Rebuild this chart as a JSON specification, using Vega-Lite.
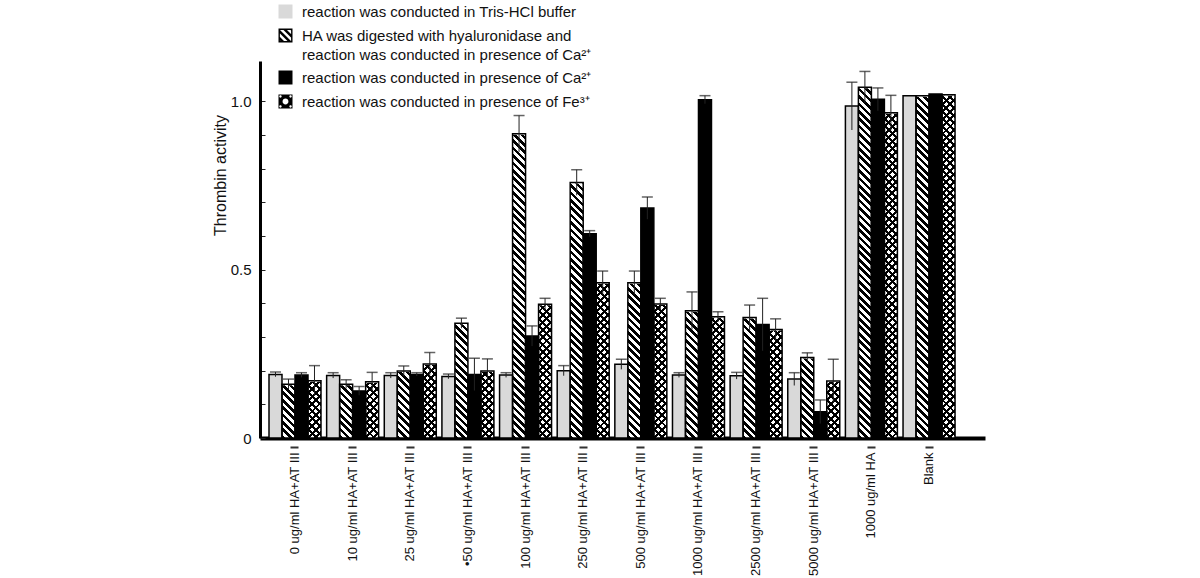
{
"$schema": "https://vega.github.io/schema/vega-lite/v6.json",
"width": 725, "height": 377,
"autosize": {"type": "none"},
"padding": {"left": 260, "top": 61, "right": 215, "bottom": 140},
"background": "white",
"config": {"view": {"stroke": null}, "font": "Liberation Sans", "axis": {"grid": false}, "axisY": {"labelOverlap": false, "labelBound": false, "labelFlush": false}, "style": {"guide-label": {"lineBreak": "\n", "lineHeight": 19}}},
"data": {"values": [
{"g":"0 ug/ml HA+AT III","s":"T","v":0.189,"lo":0.182,"hi":0.196},
{"g":"0 ug/ml HA+AT III","s":"H","v":0.16,"lo":0.145,"hi":0.175},
{"g":"0 ug/ml HA+AT III","s":"C","v":0.187,"lo":0.18,"hi":0.194},
{"g":"0 ug/ml HA+AT III","s":"F","v":0.17,"lo":0.125,"hi":0.215},
{"g":"10 ug/ml HA+AT III","s":"T","v":0.186,"lo":0.178,"hi":0.194},
{"g":"10 ug/ml HA+AT III","s":"H","v":0.16,"lo":0.147,"hi":0.173},
{"g":"10 ug/ml HA+AT III","s":"C","v":0.14,"lo":0.127,"hi":0.153},
{"g":"10 ug/ml HA+AT III","s":"F","v":0.167,"lo":0.139,"hi":0.195},
{"g":"25 ug/ml HA+AT III","s":"T","v":0.186,"lo":0.178,"hi":0.194},
{"g":"25 ug/ml HA+AT III","s":"H","v":0.199,"lo":0.184,"hi":0.214},
{"g":"25 ug/ml HA+AT III","s":"C","v":0.189,"lo":0.184,"hi":0.194},
{"g":"25 ug/ml HA+AT III","s":"F","v":0.22,"lo":0.186,"hi":0.254},
{"g":"•50 ug/ml HA+AT III","s":"T","v":0.183,"lo":0.176,"hi":0.19},
{"g":"•50 ug/ml HA+AT III","s":"H","v":0.341,"lo":0.326,"hi":0.356},
{"g":"•50 ug/ml HA+AT III","s":"C","v":0.189,"lo":0.141,"hi":0.237},
{"g":"•50 ug/ml HA+AT III","s":"F","v":0.199,"lo":0.163,"hi":0.235},
{"g":"100 ug/ml HA+AT III","s":"T","v":0.187,"lo":0.18,"hi":0.194},
{"g":"100 ug/ml HA+AT III","s":"H","v":0.904,"lo":0.85,"hi":0.958},
{"g":"100 ug/ml HA+AT III","s":"C","v":0.303,"lo":0.273,"hi":0.333},
{"g":"100 ug/ml HA+AT III","s":"F","v":0.397,"lo":0.379,"hi":0.415},
{"g":"250 ug/ml HA+AT III","s":"T","v":0.2,"lo":0.185,"hi":0.215},
{"g":"250 ug/ml HA+AT III","s":"H","v":0.759,"lo":0.721,"hi":0.797},
{"g":"250 ug/ml HA+AT III","s":"C","v":0.607,"lo":0.598,"hi":0.616},
{"g":"250 ug/ml HA+AT III","s":"F","v":0.461,"lo":0.426,"hi":0.496},
{"g":"500 ug/ml HA+AT III","s":"T","v":0.219,"lo":0.204,"hi":0.234},
{"g":"500 ug/ml HA+AT III","s":"H","v":0.461,"lo":0.426,"hi":0.496},
{"g":"500 ug/ml HA+AT III","s":"C","v":0.683,"lo":0.65,"hi":0.716},
{"g":"500 ug/ml HA+AT III","s":"F","v":0.398,"lo":0.381,"hi":0.415},
{"g":"1000 ug/ml HA+AT III","s":"T","v":0.187,"lo":0.18,"hi":0.194},
{"g":"1000 ug/ml HA+AT III","s":"H","v":0.378,"lo":0.322,"hi":0.434},
{"g":"1000 ug/ml HA+AT III","s":"C","v":1.005,"lo":0.993,"hi":1.017},
{"g":"1000 ug/ml HA+AT III","s":"F","v":0.36,"lo":0.345,"hi":0.375},
{"g":"2500 ug/ml HA+AT III","s":"T","v":0.185,"lo":0.175,"hi":0.195},
{"g":"2500 ug/ml HA+AT III","s":"H","v":0.358,"lo":0.321,"hi":0.395},
{"g":"2500 ug/ml HA+AT III","s":"C","v":0.337,"lo":0.259,"hi":0.415},
{"g":"2500 ug/ml HA+AT III","s":"F","v":0.322,"lo":0.29,"hi":0.354},
{"g":"5000 ug/ml HA+AT III","s":"T","v":0.175,"lo":0.156,"hi":0.194},
{"g":"5000 ug/ml HA+AT III","s":"H","v":0.239,"lo":0.225,"hi":0.253},
{"g":"5000 ug/ml HA+AT III","s":"C","v":0.078,"lo":0.043,"hi":0.113},
{"g":"5000 ug/ml HA+AT III","s":"F","v":0.169,"lo":0.104,"hi":0.234},
{"g":"1000 ug/ml HA","s":"T","v":0.986,"lo":0.915,"hi":1.057},
{"g":"1000 ug/ml HA","s":"H","v":1.042,"lo":0.995,"hi":1.089},
{"g":"1000 ug/ml HA","s":"C","v":1.006,"lo":0.972,"hi":1.04},
{"g":"1000 ug/ml HA","s":"F","v":0.966,"lo":0.914,"hi":1.018},
{"g":"Blank","s":"T","v":1.017},
{"g":"Blank","s":"H","v":1.017},
{"g":"Blank","s":"C","v":1.022},
{"g":"Blank","s":"F","v":1.02}
]},
"encoding": {
  "x": {"field": "g", "type": "nominal",
    "scale": {"domain": ["0 ug/ml HA+AT III","10 ug/ml HA+AT III","25 ug/ml HA+AT III","•50 ug/ml HA+AT III","100 ug/ml HA+AT III","250 ug/ml HA+AT III","500 ug/ml HA+AT III","1000 ug/ml HA+AT III","2500 ug/ml HA+AT III","5000 ug/ml HA+AT III","1000 ug/ml HA","Blank"], "paddingInner": 0.098, "paddingOuter": 0.338, "align": 0.231},
    "axis": {"title": null, "labelAngle": -90, "labelFontSize": 13, "labelColor": "#111", "labelPadding": 4, "labelLimit": 0, "domainWidth": 4, "domainColor": "#000", "ticks": true, "tickSize": 10, "tickWidth": 8, "tickColor": "#333", "tickDash": [0, 8, 2, 100]}},
  "xOffset": {"field": "s", "type": "nominal", "scale": {"domain": ["T","H","C","F"], "paddingInner": 0, "paddingOuter": 0}}
},
"layer": [
{
  "transform": [{"filter": "datum.s=='H'"}],
  "mark": {"type": "bar", "fill": {"gradient": "linear", "x1": 0, "y1": 1, "x2": 0.0377, "y2": -0.0351, "stops": [
{"offset":0,"color":"#000"},{"offset":0.01,"color":"#000"},{"offset":0.01,"color":"#fff"},{"offset":0.02,"color":"#fff"},
{"offset":0.02,"color":"#000"},{"offset":0.03,"color":"#000"},{"offset":0.03,"color":"#fff"},{"offset":0.04,"color":"#fff"},
{"offset":0.04,"color":"#000"},{"offset":0.05,"color":"#000"},{"offset":0.05,"color":"#fff"},{"offset":0.06,"color":"#fff"},
{"offset":0.06,"color":"#000"},{"offset":0.07,"color":"#000"},{"offset":0.07,"color":"#fff"},{"offset":0.08,"color":"#fff"},
{"offset":0.08,"color":"#000"},{"offset":0.09,"color":"#000"},{"offset":0.09,"color":"#fff"},{"offset":0.1,"color":"#fff"},
{"offset":0.1,"color":"#000"},{"offset":0.11,"color":"#000"},{"offset":0.11,"color":"#fff"},{"offset":0.12,"color":"#fff"},
{"offset":0.12,"color":"#000"},{"offset":0.13,"color":"#000"},{"offset":0.13,"color":"#fff"},{"offset":0.14,"color":"#fff"},
{"offset":0.14,"color":"#000"},{"offset":0.15,"color":"#000"},{"offset":0.15,"color":"#fff"},{"offset":0.16,"color":"#fff"},
{"offset":0.16,"color":"#000"},{"offset":0.17,"color":"#000"},{"offset":0.17,"color":"#fff"},{"offset":0.18,"color":"#fff"},
{"offset":0.18,"color":"#000"},{"offset":0.19,"color":"#000"},{"offset":0.19,"color":"#fff"},{"offset":0.2,"color":"#fff"},
{"offset":0.2,"color":"#000"},{"offset":0.21,"color":"#000"},{"offset":0.21,"color":"#fff"},{"offset":0.22,"color":"#fff"},
{"offset":0.22,"color":"#000"},{"offset":0.23,"color":"#000"},{"offset":0.23,"color":"#fff"},{"offset":0.24,"color":"#fff"},
{"offset":0.24,"color":"#000"},{"offset":0.25,"color":"#000"},{"offset":0.25,"color":"#fff"},{"offset":0.26,"color":"#fff"},
{"offset":0.26,"color":"#000"},{"offset":0.27,"color":"#000"},{"offset":0.27,"color":"#fff"},{"offset":0.28,"color":"#fff"},
{"offset":0.28,"color":"#000"},{"offset":0.29,"color":"#000"},{"offset":0.29,"color":"#fff"},{"offset":0.3,"color":"#fff"},
{"offset":0.3,"color":"#000"},{"offset":0.31,"color":"#000"},{"offset":0.31,"color":"#fff"},{"offset":0.32,"color":"#fff"},
{"offset":0.32,"color":"#000"},{"offset":0.33,"color":"#000"},{"offset":0.33,"color":"#fff"},{"offset":0.34,"color":"#fff"},
{"offset":0.34,"color":"#000"},{"offset":0.35,"color":"#000"},{"offset":0.35,"color":"#fff"},{"offset":0.36,"color":"#fff"},
{"offset":0.36,"color":"#000"},{"offset":0.37,"color":"#000"},{"offset":0.37,"color":"#fff"},{"offset":0.38,"color":"#fff"},
{"offset":0.38,"color":"#000"},{"offset":0.39,"color":"#000"},{"offset":0.39,"color":"#fff"},{"offset":0.4,"color":"#fff"},
{"offset":0.4,"color":"#000"},{"offset":0.41,"color":"#000"},{"offset":0.41,"color":"#fff"},{"offset":0.42,"color":"#fff"},
{"offset":0.42,"color":"#000"},{"offset":0.43,"color":"#000"},{"offset":0.43,"color":"#fff"},{"offset":0.44,"color":"#fff"},
{"offset":0.44,"color":"#000"},{"offset":0.45,"color":"#000"},{"offset":0.45,"color":"#fff"},{"offset":0.46,"color":"#fff"},
{"offset":0.46,"color":"#000"},{"offset":0.47,"color":"#000"},{"offset":0.47,"color":"#fff"},{"offset":0.48,"color":"#fff"},
{"offset":0.48,"color":"#000"},{"offset":0.49,"color":"#000"},{"offset":0.49,"color":"#fff"},{"offset":0.5,"color":"#fff"},
{"offset":0.5,"color":"#000"},{"offset":0.51,"color":"#000"},{"offset":0.51,"color":"#fff"},{"offset":0.52,"color":"#fff"},
{"offset":0.52,"color":"#000"},{"offset":0.53,"color":"#000"},{"offset":0.53,"color":"#fff"},{"offset":0.54,"color":"#fff"},
{"offset":0.54,"color":"#000"},{"offset":0.55,"color":"#000"},{"offset":0.55,"color":"#fff"},{"offset":0.56,"color":"#fff"},
{"offset":0.56,"color":"#000"},{"offset":0.57,"color":"#000"},{"offset":0.57,"color":"#fff"},{"offset":0.58,"color":"#fff"},
{"offset":0.58,"color":"#000"},{"offset":0.59,"color":"#000"},{"offset":0.59,"color":"#fff"},{"offset":0.6,"color":"#fff"},
{"offset":0.6,"color":"#000"},{"offset":0.61,"color":"#000"},{"offset":0.61,"color":"#fff"},{"offset":0.62,"color":"#fff"},
{"offset":0.62,"color":"#000"},{"offset":0.63,"color":"#000"},{"offset":0.63,"color":"#fff"},{"offset":0.64,"color":"#fff"},
{"offset":0.64,"color":"#000"},{"offset":0.65,"color":"#000"},{"offset":0.65,"color":"#fff"},{"offset":0.66,"color":"#fff"},
{"offset":0.66,"color":"#000"},{"offset":0.67,"color":"#000"},{"offset":0.67,"color":"#fff"},{"offset":0.68,"color":"#fff"},
{"offset":0.68,"color":"#000"},{"offset":0.69,"color":"#000"},{"offset":0.69,"color":"#fff"},{"offset":0.7,"color":"#fff"},
{"offset":0.7,"color":"#000"},{"offset":0.71,"color":"#000"},{"offset":0.71,"color":"#fff"},{"offset":0.72,"color":"#fff"},
{"offset":0.72,"color":"#000"},{"offset":0.73,"color":"#000"},{"offset":0.73,"color":"#fff"},{"offset":0.74,"color":"#fff"},
{"offset":0.74,"color":"#000"},{"offset":0.75,"color":"#000"},{"offset":0.75,"color":"#fff"},{"offset":0.76,"color":"#fff"},
{"offset":0.76,"color":"#000"},{"offset":0.77,"color":"#000"},{"offset":0.77,"color":"#fff"},{"offset":0.78,"color":"#fff"},
{"offset":0.78,"color":"#000"},{"offset":0.79,"color":"#000"},{"offset":0.79,"color":"#fff"},{"offset":0.8,"color":"#fff"},
{"offset":0.8,"color":"#000"},{"offset":0.81,"color":"#000"},{"offset":0.81,"color":"#fff"},{"offset":0.82,"color":"#fff"},
{"offset":0.82,"color":"#000"},{"offset":0.83,"color":"#000"},{"offset":0.83,"color":"#fff"},{"offset":0.84,"color":"#fff"},
{"offset":0.84,"color":"#000"},{"offset":0.85,"color":"#000"},{"offset":0.85,"color":"#fff"},{"offset":0.86,"color":"#fff"},
{"offset":0.86,"color":"#000"},{"offset":0.87,"color":"#000"},{"offset":0.87,"color":"#fff"},{"offset":0.88,"color":"#fff"},
{"offset":0.88,"color":"#000"},{"offset":0.89,"color":"#000"},{"offset":0.89,"color":"#fff"},{"offset":0.9,"color":"#fff"},
{"offset":0.9,"color":"#000"},{"offset":0.91,"color":"#000"},{"offset":0.91,"color":"#fff"},{"offset":0.92,"color":"#fff"},
{"offset":0.92,"color":"#000"},{"offset":0.93,"color":"#000"},{"offset":0.93,"color":"#fff"},{"offset":0.94,"color":"#fff"},
{"offset":0.94,"color":"#000"},{"offset":0.95,"color":"#000"},{"offset":0.95,"color":"#fff"},{"offset":0.96,"color":"#fff"},
{"offset":0.96,"color":"#000"},{"offset":0.97,"color":"#000"},{"offset":0.97,"color":"#fff"},{"offset":0.98,"color":"#fff"},
{"offset":0.98,"color":"#000"},{"offset":0.99,"color":"#000"},{"offset":0.99,"color":"#fff"},{"offset":1,"color":"#fff"}
  ]}},
  "encoding": {
    "y": {"datum": 1.06, "type": "quantitative", "title": "Thrombin activity", "scale": {"domain": [0, 1.12], "nice": false},
      "axis": {"values": [0,0.1,0.2,0.3,0.4,0.5,0.6,0.7,0.8,0.9,1], "tickCount": 30, "format": ".1f", "labelExpr": "datum.label=='0.0' ? '0' : (datum.label=='0.5' || datum.label=='1.0') ? datum.label : ''", "labelOverlap": false, "labelBound": false, "ticks": true, "tickSize": -5, "tickColor": "#222", "tickWidth": 1, "labelPadding": 14, "labelFontSize": 15, "labelColor": "#111", "domainWidth": 3, "domainColor": "#000", "titleFontSize": 16, "titleFontWeight": "normal", "titleColor": "#111", "titleX": -40, "titleY": 114, "titleAlign": "center", "titleBaseline": "middle", "titleAngle": 270}},
    "y2": {"datum": 0}
  }
},
{
  "transform": [{"filter": "datum.s=='F'"}],
  "mark": {"type": "bar", "fill": {"gradient": "linear", "x1": 0, "y1": 1, "x2": 0.0377, "y2": -0.0351, "stops": [
{"offset":0,"color":"#000"},{"offset":0.008,"color":"#000"},{"offset":0.008,"color":"#fff"},{"offset":0.02,"color":"#fff"},
{"offset":0.02,"color":"#000"},{"offset":0.028,"color":"#000"},{"offset":0.028,"color":"#fff"},{"offset":0.04,"color":"#fff"},
{"offset":0.04,"color":"#000"},{"offset":0.048,"color":"#000"},{"offset":0.048,"color":"#fff"},{"offset":0.06,"color":"#fff"},
{"offset":0.06,"color":"#000"},{"offset":0.068,"color":"#000"},{"offset":0.068,"color":"#fff"},{"offset":0.08,"color":"#fff"},
{"offset":0.08,"color":"#000"},{"offset":0.088,"color":"#000"},{"offset":0.088,"color":"#fff"},{"offset":0.1,"color":"#fff"},
{"offset":0.1,"color":"#000"},{"offset":0.108,"color":"#000"},{"offset":0.108,"color":"#fff"},{"offset":0.12,"color":"#fff"},
{"offset":0.12,"color":"#000"},{"offset":0.128,"color":"#000"},{"offset":0.128,"color":"#fff"},{"offset":0.14,"color":"#fff"},
{"offset":0.14,"color":"#000"},{"offset":0.148,"color":"#000"},{"offset":0.148,"color":"#fff"},{"offset":0.16,"color":"#fff"},
{"offset":0.16,"color":"#000"},{"offset":0.168,"color":"#000"},{"offset":0.168,"color":"#fff"},{"offset":0.18,"color":"#fff"},
{"offset":0.18,"color":"#000"},{"offset":0.188,"color":"#000"},{"offset":0.188,"color":"#fff"},{"offset":0.2,"color":"#fff"},
{"offset":0.2,"color":"#000"},{"offset":0.208,"color":"#000"},{"offset":0.208,"color":"#fff"},{"offset":0.22,"color":"#fff"},
{"offset":0.22,"color":"#000"},{"offset":0.228,"color":"#000"},{"offset":0.228,"color":"#fff"},{"offset":0.24,"color":"#fff"},
{"offset":0.24,"color":"#000"},{"offset":0.248,"color":"#000"},{"offset":0.248,"color":"#fff"},{"offset":0.26,"color":"#fff"},
{"offset":0.26,"color":"#000"},{"offset":0.268,"color":"#000"},{"offset":0.268,"color":"#fff"},{"offset":0.28,"color":"#fff"},
{"offset":0.28,"color":"#000"},{"offset":0.288,"color":"#000"},{"offset":0.288,"color":"#fff"},{"offset":0.3,"color":"#fff"},
{"offset":0.3,"color":"#000"},{"offset":0.308,"color":"#000"},{"offset":0.308,"color":"#fff"},{"offset":0.32,"color":"#fff"},
{"offset":0.32,"color":"#000"},{"offset":0.328,"color":"#000"},{"offset":0.328,"color":"#fff"},{"offset":0.34,"color":"#fff"},
{"offset":0.34,"color":"#000"},{"offset":0.348,"color":"#000"},{"offset":0.348,"color":"#fff"},{"offset":0.36,"color":"#fff"},
{"offset":0.36,"color":"#000"},{"offset":0.368,"color":"#000"},{"offset":0.368,"color":"#fff"},{"offset":0.38,"color":"#fff"},
{"offset":0.38,"color":"#000"},{"offset":0.388,"color":"#000"},{"offset":0.388,"color":"#fff"},{"offset":0.4,"color":"#fff"},
{"offset":0.4,"color":"#000"},{"offset":0.408,"color":"#000"},{"offset":0.408,"color":"#fff"},{"offset":0.42,"color":"#fff"},
{"offset":0.42,"color":"#000"},{"offset":0.428,"color":"#000"},{"offset":0.428,"color":"#fff"},{"offset":0.44,"color":"#fff"},
{"offset":0.44,"color":"#000"},{"offset":0.448,"color":"#000"},{"offset":0.448,"color":"#fff"},{"offset":0.46,"color":"#fff"},
{"offset":0.46,"color":"#000"},{"offset":0.468,"color":"#000"},{"offset":0.468,"color":"#fff"},{"offset":0.48,"color":"#fff"},
{"offset":0.48,"color":"#000"},{"offset":0.488,"color":"#000"},{"offset":0.488,"color":"#fff"},{"offset":0.5,"color":"#fff"},
{"offset":0.5,"color":"#000"},{"offset":0.508,"color":"#000"},{"offset":0.508,"color":"#fff"},{"offset":0.52,"color":"#fff"},
{"offset":0.52,"color":"#000"},{"offset":0.528,"color":"#000"},{"offset":0.528,"color":"#fff"},{"offset":0.54,"color":"#fff"},
{"offset":0.54,"color":"#000"},{"offset":0.548,"color":"#000"},{"offset":0.548,"color":"#fff"},{"offset":0.56,"color":"#fff"},
{"offset":0.56,"color":"#000"},{"offset":0.568,"color":"#000"},{"offset":0.568,"color":"#fff"},{"offset":0.58,"color":"#fff"},
{"offset":0.58,"color":"#000"},{"offset":0.588,"color":"#000"},{"offset":0.588,"color":"#fff"},{"offset":0.6,"color":"#fff"},
{"offset":0.6,"color":"#000"},{"offset":0.608,"color":"#000"},{"offset":0.608,"color":"#fff"},{"offset":0.62,"color":"#fff"},
{"offset":0.62,"color":"#000"},{"offset":0.628,"color":"#000"},{"offset":0.628,"color":"#fff"},{"offset":0.64,"color":"#fff"},
{"offset":0.64,"color":"#000"},{"offset":0.648,"color":"#000"},{"offset":0.648,"color":"#fff"},{"offset":0.66,"color":"#fff"},
{"offset":0.66,"color":"#000"},{"offset":0.668,"color":"#000"},{"offset":0.668,"color":"#fff"},{"offset":0.68,"color":"#fff"},
{"offset":0.68,"color":"#000"},{"offset":0.688,"color":"#000"},{"offset":0.688,"color":"#fff"},{"offset":0.7,"color":"#fff"},
{"offset":0.7,"color":"#000"},{"offset":0.708,"color":"#000"},{"offset":0.708,"color":"#fff"},{"offset":0.72,"color":"#fff"},
{"offset":0.72,"color":"#000"},{"offset":0.728,"color":"#000"},{"offset":0.728,"color":"#fff"},{"offset":0.74,"color":"#fff"},
{"offset":0.74,"color":"#000"},{"offset":0.748,"color":"#000"},{"offset":0.748,"color":"#fff"},{"offset":0.76,"color":"#fff"},
{"offset":0.76,"color":"#000"},{"offset":0.768,"color":"#000"},{"offset":0.768,"color":"#fff"},{"offset":0.78,"color":"#fff"},
{"offset":0.78,"color":"#000"},{"offset":0.788,"color":"#000"},{"offset":0.788,"color":"#fff"},{"offset":0.8,"color":"#fff"},
{"offset":0.8,"color":"#000"},{"offset":0.808,"color":"#000"},{"offset":0.808,"color":"#fff"},{"offset":0.82,"color":"#fff"},
{"offset":0.82,"color":"#000"},{"offset":0.828,"color":"#000"},{"offset":0.828,"color":"#fff"},{"offset":0.84,"color":"#fff"},
{"offset":0.84,"color":"#000"},{"offset":0.848,"color":"#000"},{"offset":0.848,"color":"#fff"},{"offset":0.86,"color":"#fff"},
{"offset":0.86,"color":"#000"},{"offset":0.868,"color":"#000"},{"offset":0.868,"color":"#fff"},{"offset":0.88,"color":"#fff"},
{"offset":0.88,"color":"#000"},{"offset":0.888,"color":"#000"},{"offset":0.888,"color":"#fff"},{"offset":0.9,"color":"#fff"},
{"offset":0.9,"color":"#000"},{"offset":0.908,"color":"#000"},{"offset":0.908,"color":"#fff"},{"offset":0.92,"color":"#fff"},
{"offset":0.92,"color":"#000"},{"offset":0.928,"color":"#000"},{"offset":0.928,"color":"#fff"},{"offset":0.94,"color":"#fff"},
{"offset":0.94,"color":"#000"},{"offset":0.948,"color":"#000"},{"offset":0.948,"color":"#fff"},{"offset":0.96,"color":"#fff"},
{"offset":0.96,"color":"#000"},{"offset":0.968,"color":"#000"},{"offset":0.968,"color":"#fff"},{"offset":0.98,"color":"#fff"},
{"offset":0.98,"color":"#000"},{"offset":0.988,"color":"#000"},{"offset":0.988,"color":"#fff"},{"offset":1,"color":"#fff"}
  ]}},
  "encoding": {"y": {"datum": 1.06, "type": "quantitative", "title": "Thrombin activity", "scale": {"domain": [0, 1.12], "nice": false}}, "y2": {"datum": 0}}
},
{
  "transform": [{"filter": "datum.s=='F'"}],
  "mark": {"type": "bar", "fill": {"gradient": "linear", "x1": 0, "y1": 0, "x2": 0.0377, "y2": 1.0351, "stops": [
{"offset":0,"color":"#000"},{"offset":0.008,"color":"#000"},{"offset":0.008,"color":"transparent"},{"offset":0.02,"color":"transparent"},
{"offset":0.02,"color":"#000"},{"offset":0.028,"color":"#000"},{"offset":0.028,"color":"transparent"},{"offset":0.04,"color":"transparent"},
{"offset":0.04,"color":"#000"},{"offset":0.048,"color":"#000"},{"offset":0.048,"color":"transparent"},{"offset":0.06,"color":"transparent"},
{"offset":0.06,"color":"#000"},{"offset":0.068,"color":"#000"},{"offset":0.068,"color":"transparent"},{"offset":0.08,"color":"transparent"},
{"offset":0.08,"color":"#000"},{"offset":0.088,"color":"#000"},{"offset":0.088,"color":"transparent"},{"offset":0.1,"color":"transparent"},
{"offset":0.1,"color":"#000"},{"offset":0.108,"color":"#000"},{"offset":0.108,"color":"transparent"},{"offset":0.12,"color":"transparent"},
{"offset":0.12,"color":"#000"},{"offset":0.128,"color":"#000"},{"offset":0.128,"color":"transparent"},{"offset":0.14,"color":"transparent"},
{"offset":0.14,"color":"#000"},{"offset":0.148,"color":"#000"},{"offset":0.148,"color":"transparent"},{"offset":0.16,"color":"transparent"},
{"offset":0.16,"color":"#000"},{"offset":0.168,"color":"#000"},{"offset":0.168,"color":"transparent"},{"offset":0.18,"color":"transparent"},
{"offset":0.18,"color":"#000"},{"offset":0.188,"color":"#000"},{"offset":0.188,"color":"transparent"},{"offset":0.2,"color":"transparent"},
{"offset":0.2,"color":"#000"},{"offset":0.208,"color":"#000"},{"offset":0.208,"color":"transparent"},{"offset":0.22,"color":"transparent"},
{"offset":0.22,"color":"#000"},{"offset":0.228,"color":"#000"},{"offset":0.228,"color":"transparent"},{"offset":0.24,"color":"transparent"},
{"offset":0.24,"color":"#000"},{"offset":0.248,"color":"#000"},{"offset":0.248,"color":"transparent"},{"offset":0.26,"color":"transparent"},
{"offset":0.26,"color":"#000"},{"offset":0.268,"color":"#000"},{"offset":0.268,"color":"transparent"},{"offset":0.28,"color":"transparent"},
{"offset":0.28,"color":"#000"},{"offset":0.288,"color":"#000"},{"offset":0.288,"color":"transparent"},{"offset":0.3,"color":"transparent"},
{"offset":0.3,"color":"#000"},{"offset":0.308,"color":"#000"},{"offset":0.308,"color":"transparent"},{"offset":0.32,"color":"transparent"},
{"offset":0.32,"color":"#000"},{"offset":0.328,"color":"#000"},{"offset":0.328,"color":"transparent"},{"offset":0.34,"color":"transparent"},
{"offset":0.34,"color":"#000"},{"offset":0.348,"color":"#000"},{"offset":0.348,"color":"transparent"},{"offset":0.36,"color":"transparent"},
{"offset":0.36,"color":"#000"},{"offset":0.368,"color":"#000"},{"offset":0.368,"color":"transparent"},{"offset":0.38,"color":"transparent"},
{"offset":0.38,"color":"#000"},{"offset":0.388,"color":"#000"},{"offset":0.388,"color":"transparent"},{"offset":0.4,"color":"transparent"},
{"offset":0.4,"color":"#000"},{"offset":0.408,"color":"#000"},{"offset":0.408,"color":"transparent"},{"offset":0.42,"color":"transparent"},
{"offset":0.42,"color":"#000"},{"offset":0.428,"color":"#000"},{"offset":0.428,"color":"transparent"},{"offset":0.44,"color":"transparent"},
{"offset":0.44,"color":"#000"},{"offset":0.448,"color":"#000"},{"offset":0.448,"color":"transparent"},{"offset":0.46,"color":"transparent"},
{"offset":0.46,"color":"#000"},{"offset":0.468,"color":"#000"},{"offset":0.468,"color":"transparent"},{"offset":0.48,"color":"transparent"},
{"offset":0.48,"color":"#000"},{"offset":0.488,"color":"#000"},{"offset":0.488,"color":"transparent"},{"offset":0.5,"color":"transparent"},
{"offset":0.5,"color":"#000"},{"offset":0.508,"color":"#000"},{"offset":0.508,"color":"transparent"},{"offset":0.52,"color":"transparent"},
{"offset":0.52,"color":"#000"},{"offset":0.528,"color":"#000"},{"offset":0.528,"color":"transparent"},{"offset":0.54,"color":"transparent"},
{"offset":0.54,"color":"#000"},{"offset":0.548,"color":"#000"},{"offset":0.548,"color":"transparent"},{"offset":0.56,"color":"transparent"},
{"offset":0.56,"color":"#000"},{"offset":0.568,"color":"#000"},{"offset":0.568,"color":"transparent"},{"offset":0.58,"color":"transparent"},
{"offset":0.58,"color":"#000"},{"offset":0.588,"color":"#000"},{"offset":0.588,"color":"transparent"},{"offset":0.6,"color":"transparent"},
{"offset":0.6,"color":"#000"},{"offset":0.608,"color":"#000"},{"offset":0.608,"color":"transparent"},{"offset":0.62,"color":"transparent"},
{"offset":0.62,"color":"#000"},{"offset":0.628,"color":"#000"},{"offset":0.628,"color":"transparent"},{"offset":0.64,"color":"transparent"},
{"offset":0.64,"color":"#000"},{"offset":0.648,"color":"#000"},{"offset":0.648,"color":"transparent"},{"offset":0.66,"color":"transparent"},
{"offset":0.66,"color":"#000"},{"offset":0.668,"color":"#000"},{"offset":0.668,"color":"transparent"},{"offset":0.68,"color":"transparent"},
{"offset":0.68,"color":"#000"},{"offset":0.688,"color":"#000"},{"offset":0.688,"color":"transparent"},{"offset":0.7,"color":"transparent"},
{"offset":0.7,"color":"#000"},{"offset":0.708,"color":"#000"},{"offset":0.708,"color":"transparent"},{"offset":0.72,"color":"transparent"},
{"offset":0.72,"color":"#000"},{"offset":0.728,"color":"#000"},{"offset":0.728,"color":"transparent"},{"offset":0.74,"color":"transparent"},
{"offset":0.74,"color":"#000"},{"offset":0.748,"color":"#000"},{"offset":0.748,"color":"transparent"},{"offset":0.76,"color":"transparent"},
{"offset":0.76,"color":"#000"},{"offset":0.768,"color":"#000"},{"offset":0.768,"color":"transparent"},{"offset":0.78,"color":"transparent"},
{"offset":0.78,"color":"#000"},{"offset":0.788,"color":"#000"},{"offset":0.788,"color":"transparent"},{"offset":0.8,"color":"transparent"},
{"offset":0.8,"color":"#000"},{"offset":0.808,"color":"#000"},{"offset":0.808,"color":"transparent"},{"offset":0.82,"color":"transparent"},
{"offset":0.82,"color":"#000"},{"offset":0.828,"color":"#000"},{"offset":0.828,"color":"transparent"},{"offset":0.84,"color":"transparent"},
{"offset":0.84,"color":"#000"},{"offset":0.848,"color":"#000"},{"offset":0.848,"color":"transparent"},{"offset":0.86,"color":"transparent"},
{"offset":0.86,"color":"#000"},{"offset":0.868,"color":"#000"},{"offset":0.868,"color":"transparent"},{"offset":0.88,"color":"transparent"},
{"offset":0.88,"color":"#000"},{"offset":0.888,"color":"#000"},{"offset":0.888,"color":"transparent"},{"offset":0.9,"color":"transparent"},
{"offset":0.9,"color":"#000"},{"offset":0.908,"color":"#000"},{"offset":0.908,"color":"transparent"},{"offset":0.92,"color":"transparent"},
{"offset":0.92,"color":"#000"},{"offset":0.928,"color":"#000"},{"offset":0.928,"color":"transparent"},{"offset":0.94,"color":"transparent"},
{"offset":0.94,"color":"#000"},{"offset":0.948,"color":"#000"},{"offset":0.948,"color":"transparent"},{"offset":0.96,"color":"transparent"},
{"offset":0.96,"color":"#000"},{"offset":0.968,"color":"#000"},{"offset":0.968,"color":"transparent"},{"offset":0.98,"color":"transparent"},
{"offset":0.98,"color":"#000"},{"offset":0.988,"color":"#000"},{"offset":0.988,"color":"transparent"},{"offset":1,"color":"transparent"}
  ]}},
  "encoding": {"y": {"datum": 1.06, "type": "quantitative", "title": "Thrombin activity", "scale": {"domain": [0, 1.12], "nice": false}}, "y2": {"datum": 0}}
},
{
  "transform": [{"filter": "datum.s=='H' || datum.s=='F'"}],
  "mark": {"type": "bar", "fill": "#ffffff", "stroke": "#ffffff", "strokeWidth": 2},
  "encoding": {"y": {"field": "v", "type": "quantitative", "title": "Thrombin activity", "scale": {"domain": [0, 1.12], "nice": false}}, "y2": {"datum": 1.06}}
},
{
  "mark": {"type": "bar", "stroke": "#000", "strokeWidth": 1.5},
  "encoding": {
    "y": {"field": "v", "type": "quantitative", "title": "Thrombin activity", "scale": {"domain": [0, 1.12], "nice": false}},
    "fill": {"condition": [{"test": "datum.s=='T'", "value": "#d9d9d9"}, {"test": "datum.s=='C'", "value": "#000000"}], "value": "transparent"}
  }
},
{
  "mark": {"type": "point", "filled": true, "size": 0, "opacity": 1},
  "encoding": {
    "y": {"datum": 0, "type": "quantitative", "title": "Thrombin activity", "scale": {"domain": [0, 1.12], "nice": false}},
    "color": {"field": "s", "type": "nominal",
      "scale": {"domain": ["T","H","C","F"], "range": ["#d9d9d9", "#000000", "#000000", "#000000"]},
      "legend": {"orient": "none", "legendX": 18, "legendY": -57, "title": null, "padding": 0, "symbolSize": 196, "symbolOpacity": 1, "symbolStrokeColor": "#000", "symbolStrokeWidth": 1, "labelFontSize": 15, "labelColor": "#111", "labelOffset": 9, "rowPadding": 5, "labelLimit": 0,
        "labelExpr": "datum.value=='T' ? 'reaction was conducted in Tris-HCl buffer' : datum.value=='H' ? 'HA was digested with hyaluronidase and\\nreaction was conducted in presence of Ca²⁺' : datum.value=='C' ? 'reaction was conducted in presence of Ca²⁺' : 'reaction was conducted in presence of Fe³⁺'"}},
    "shape": {"field": "s", "type": "nominal",
      "scale": {"domain": ["T","H","C","F"], "range": [
        "M-1,-1L1,-1L1,1L-1,1Z",
        "M-1,-1L1,-1L1,1L-1,1ZM-0.8,-0.8L-0.8,0.8L0.8,0.8L0.8,-0.8ZM-1,-1L1,1L0.5,1L-1,-0.5ZM-1,0L0,1L-0.5,1L-1,0.5ZM-0.5,-1L0,-1L1,0L1,0.5ZM0.5,-1L1,-1L1,-0.5Z",
        "M-1,-1L1,-1L1,1L-1,1Z",
        "M-1,-1L1,-1L1,1L-1,1ZM0.42,0A0.42,0.42 0 1,0 -0.42,0A0.42,0.42 0 1,0 0.42,0ZM0.89,0.72A0.17,0.17 0 1,0 0.55,0.72A0.17,0.17 0 1,0 0.89,0.72ZM-0.55,0.72A0.17,0.17 0 1,0 -0.89,0.72A0.17,0.17 0 1,0 -0.55,0.72ZM0.89,-0.72A0.17,0.17 0 1,0 0.55,-0.72A0.17,0.17 0 1,0 0.89,-0.72ZM-0.55,-0.72A0.17,0.17 0 1,0 -0.89,-0.72A0.17,0.17 0 1,0 -0.55,-0.72Z"
      ]},
      "legend": {"orient": "none", "legendX": 18, "legendY": -57, "title": null, "padding": 0, "symbolSize": 196, "symbolOpacity": 1, "symbolStrokeColor": "#000", "symbolStrokeWidth": 1, "labelFontSize": 15, "labelColor": "#111", "labelOffset": 9, "rowPadding": 5, "labelLimit": 0,
        "labelExpr": "datum.value=='T' ? 'reaction was conducted in Tris-HCl buffer' : datum.value=='H' ? 'HA was digested with hyaluronidase and\\nreaction was conducted in presence of Ca²⁺' : datum.value=='C' ? 'reaction was conducted in presence of Ca²⁺' : 'reaction was conducted in presence of Fe³⁺'"}}
  }
},
{
  "transform": [{"filter": "isValid(datum.hi)"}],
  "mark": {"type": "rule", "color": "#222", "strokeWidth": 1},
  "encoding": {"y": {"field": "lo", "type": "quantitative", "title": "Thrombin activity", "scale": {"domain": [0, 1.12], "nice": false}}, "y2": {"field": "hi"}}
},
{
  "transform": [{"filter": "isValid(datum.hi)"}],
  "mark": {"type": "tick", "orient": "horizontal", "color": "#222", "thickness": 1.5, "size": 11},
  "encoding": {"y": {"field": "hi", "type": "quantitative", "title": "Thrombin activity", "scale": {"domain": [0, 1.12], "nice": false}}}
}
]
}
